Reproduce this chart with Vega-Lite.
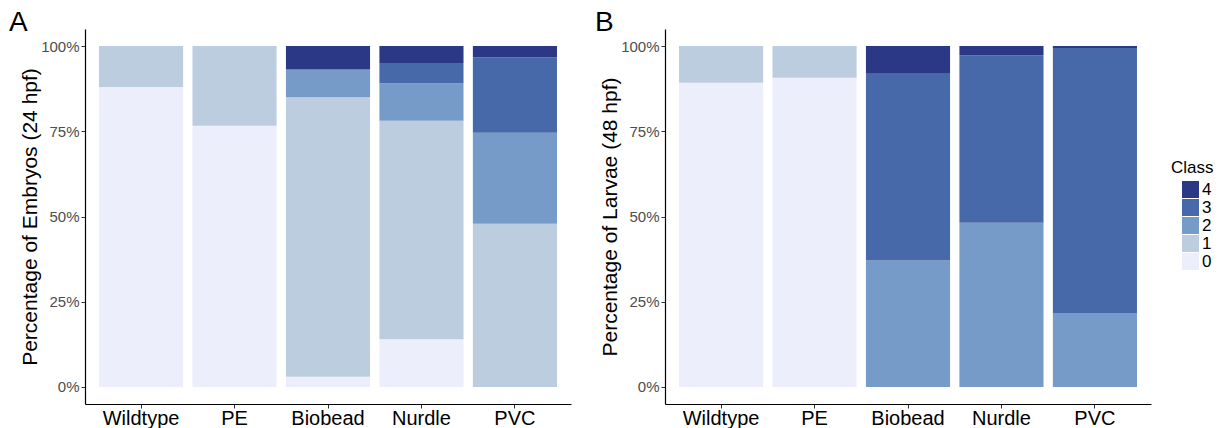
{
  "$schema": "https://vega.github.io/schema/vega-lite/v6.json",
  "padding": {"left": 9, "top": 9, "right": 0, "bottom": 0},
  "background": "white",
  "datasets": {
    "rows": [
      {"panel": "A", "group": "Wildtype", "class": 0, "pct": 88.0},
      {"panel": "A", "group": "Wildtype", "class": 1, "pct": 12.0},
      {"panel": "A", "group": "PE", "class": 0, "pct": 76.6},
      {"panel": "A", "group": "PE", "class": 1, "pct": 23.4},
      {"panel": "A", "group": "Biobead", "class": 0, "pct": 3.0},
      {"panel": "A", "group": "Biobead", "class": 1, "pct": 82.0},
      {"panel": "A", "group": "Biobead", "class": 2, "pct": 8.1},
      {"panel": "A", "group": "Biobead", "class": 4, "pct": 6.9},
      {"panel": "A", "group": "Nurdle", "class": 0, "pct": 14.0},
      {"panel": "A", "group": "Nurdle", "class": 1, "pct": 64.1},
      {"panel": "A", "group": "Nurdle", "class": 2, "pct": 11.0},
      {"panel": "A", "group": "Nurdle", "class": 3, "pct": 5.9},
      {"panel": "A", "group": "Nurdle", "class": 4, "pct": 5.0},
      {"panel": "A", "group": "PVC", "class": 1, "pct": 47.9},
      {"panel": "A", "group": "PVC", "class": 2, "pct": 26.7},
      {"panel": "A", "group": "PVC", "class": 3, "pct": 22.1},
      {"panel": "A", "group": "PVC", "class": 4, "pct": 3.3},
      {"panel": "B", "group": "Wildtype", "class": 0, "pct": 89.2},
      {"panel": "B", "group": "Wildtype", "class": 1, "pct": 10.8},
      {"panel": "B", "group": "PE", "class": 0, "pct": 90.7},
      {"panel": "B", "group": "PE", "class": 1, "pct": 9.3},
      {"panel": "B", "group": "Biobead", "class": 2, "pct": 37.1},
      {"panel": "B", "group": "Biobead", "class": 3, "pct": 55.0},
      {"panel": "B", "group": "Biobead", "class": 4, "pct": 7.9},
      {"panel": "B", "group": "Nurdle", "class": 2, "pct": 48.2},
      {"panel": "B", "group": "Nurdle", "class": 3, "pct": 49.1},
      {"panel": "B", "group": "Nurdle", "class": 4, "pct": 2.7},
      {"panel": "B", "group": "PVC", "class": 2, "pct": 21.7},
      {"panel": "B", "group": "PVC", "class": 3, "pct": 77.7},
      {"panel": "B", "group": "PVC", "class": 4, "pct": 0.6}
    ]
  },
  "config": {
    "font": "Liberation Sans",
    "view": {"stroke": null},
    "axis": {
      "grid": false,
      "domainColor": "black",
      "domainWidth": 1.2,
      "tickColor": "#333333",
      "tickSize": 4,
      "tickWidth": 1
    },
    "legend": {
      "titleFontSize": 17, "titleFontWeight": "normal", "titleColor": "black", "titlePadding": 4,
      "labelFontSize": 17, "labelColor": "black", "symbolType": "square", "symbolSize": 289, "symbolStrokeWidth": 0, "symbolOpacity": 1,
      "rowPadding": 0, "symbolOffset": 11, "labelOffset": 3, "padding": 0
    },
    "title": {"fontWeight": "normal", "fontSize": 28, "color": "black", "anchor": "start", "frame": "group", "baseline": "alphabetic", "offset": -8}
  },
  "spacing": 24,
  "hconcat": [
    {
      "data": {"name": "rows"},
      "transform": [{"filter": "datum.panel === 'A'"}],
      "title": {"text": "A", "dx": -76},
      "width": 486,
      "height": 375,
      "mark": {"type": "bar"},
      "encoding": {
        "x": {
          "field": "group", "type": "nominal",
          "sort": ["Wildtype", "PE", "Biobead", "Nurdle", "PVC"],
          "scale": {"paddingInner": 0.1, "paddingOuter": 0.15},
          "axis": {"title": null, "labelAngle": 0, "labelFontSize": 20, "labelColor": "black", "labelPadding": 0, "labelBaseline": "top"}
        },
        "y": {
          "field": "pct", "type": "quantitative", "stack": "zero",
          "scale": {"domain": [-5, 105], "nice": false, "zero": false},
          "axis": {"title": "Percentage of Embryos (24 hpf)", "titleFontSize": 21, "titleFontWeight": "normal", "titleColor": "black", "titlePadding": 0,
            "values": [0, 25, 50, 75, 100], "labelExpr": "datum.value + '%'", "labelFontSize": 15, "labelColor": "#4d4d4d", "labelPadding": 2}
        },
        "color": {
          "field": "class", "type": "nominal", "title": "Class",
          "scale": {"domain": [4, 3, 2, 1, 0], "range": ["#2a3886", "#4869a9", "#769bc8", "#bccde0", "#eceefc"]},
          "legend": {"orient": "none", "legendX": 1086, "legendY": 131}
        },
        "order": {"field": "class", "type": "quantitative", "sort": "ascending"}
      }
    },
    {
      "data": {"name": "rows"},
      "transform": [{"filter": "datum.panel === 'B'"}],
      "title": {"text": "B", "dx": -70},
      "width": 486,
      "height": 375,
      "mark": {"type": "bar"},
      "encoding": {
        "x": {
          "field": "group", "type": "nominal",
          "sort": ["Wildtype", "PE", "Biobead", "Nurdle", "PVC"],
          "scale": {"paddingInner": 0.1, "paddingOuter": 0.15},
          "axis": {"title": null, "labelAngle": 0, "labelFontSize": 20, "labelColor": "black", "labelPadding": 0, "labelBaseline": "top"}
        },
        "y": {
          "field": "pct", "type": "quantitative", "stack": "zero",
          "scale": {"domain": [-5, 105], "nice": false, "zero": false},
          "axis": {"title": "Percentage of Larvae (48 hpf)", "titleFontSize": 21, "titleFontWeight": "normal", "titleColor": "black", "titlePadding": 0,
            "values": [0, 25, 50, 75, 100], "labelExpr": "datum.value + '%'", "labelFontSize": 15, "labelColor": "#4d4d4d", "labelPadding": 2}
        },
        "color": {
          "field": "class", "type": "nominal", "title": "Class",
          "scale": {"domain": [4, 3, 2, 1, 0], "range": ["#2a3886", "#4869a9", "#769bc8", "#bccde0", "#eceefc"]},
          "legend": {"orient": "none", "legendX": 1086, "legendY": 131}
        },
        "order": {"field": "class", "type": "quantitative", "sort": "ascending"}
      }
    }
  ]
}
